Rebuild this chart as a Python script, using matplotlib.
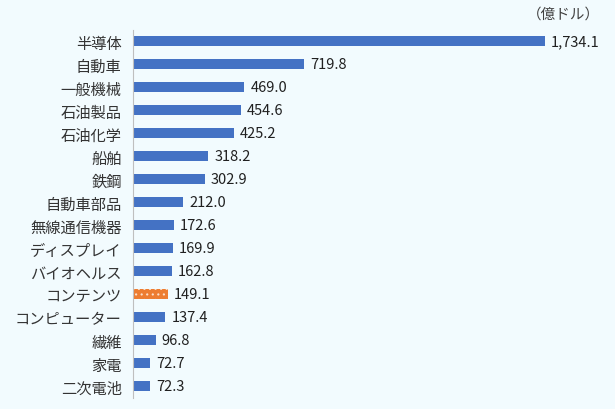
import numpy as np
import matplotlib
matplotlib.use("Agg")
import matplotlib.pyplot as plt

plt.rcParams['font.family'] = ['Noto Sans CJK JP', 'DejaVu Sans']
plt.rcParams['hatch.linewidth'] = 0.8

categories = ['半導体', '自動車', '一般機械', '石油製品', '石油化学', '船舶', '鉄鋼',
              '自動車部品', '無線通信機器', 'ディスプレイ', 'バイオヘルス', 'コンテンツ',
              'コンピューター', '繊維', '家電', '二次電池']
values = [1734.1, 719.8, 469.0, 454.6, 425.2, 318.2, 302.9, 212.0, 172.6, 169.9,
          162.8, 149.1, 137.4, 96.8, 72.7, 72.3]
highlight = 'コンテンツ'

bg = '#F2FBFE'
fig = plt.figure(figsize=(6.15, 4.1), dpi=100, facecolor=bg)
ax = fig.add_axes([0.216, 0.028, 0.773, 0.8976], facecolor=bg)

y = np.arange(len(categories))
colors = ['#ED7D31' if c == highlight else '#4472C4' for c in categories]
bars = ax.barh(y, values, height=0.4, color=colors)
for b, c in zip(bars, categories):
    if c == highlight:
        b.set_hatch('...')
        b.set_edgecolor('#FBE0CC')
        b.set_linewidth(0)

for yi, v in zip(y, values):
    ax.text(v + 25, yi, f'{v:,.1f}', va='center', ha='left', fontsize=10.5,
            color='#202020')

ax.set_xlim(0, 2000)
ax.set_ylim(len(categories) - 0.5, -0.5)
ax.set_yticks(y)
ax.set_yticklabels(categories, fontsize=11, color='#333333')
ax.set_xticks([])
ax.tick_params(axis='y', length=0, pad=8)
for s in ['top', 'right', 'bottom']:
    ax.spines[s].set_visible(False)
ax.spines['left'].set_color('#BFBFBF')

fig.text(0.975, 0.965, '（億ドル）', ha='right', va='center', fontsize=10.5, color='#404040')

fig.savefig('out.png', dpi=100, facecolor=bg)
